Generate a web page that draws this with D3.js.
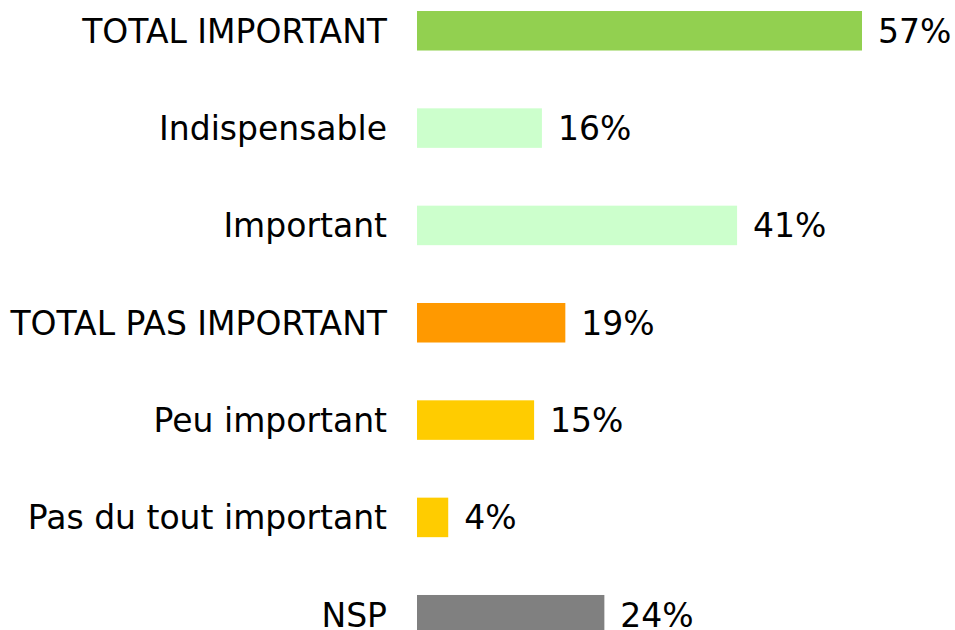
<!DOCTYPE html>
<html>
  <head>
    <script src="https://d3js.org/d3.v7.min.js"></script>
    <style>
      body { margin: 0; background: #fff; }
      text { font-family: "DejaVu Sans", Verdana, sans-serif; font-size: 33px; fill: #000; }
    </style>
  </head>
  <body>
    <div id="chart"></div>
    <script>
      // Data
      const categories = ["TOTAL IMPORTANT", "Indispensable", "Important", "TOTAL PAS IMPORTANT", "Peu important", "Pas du tout important", "NSP"];
      const values = [57, 16, 41, 19, 15, 4, 24];
      const colors = ["#92D050", "#CCFFCC", "#CCFFCC", "#FF9900", "#FFCC00", "#FFCC00", "#808080"];

      const width = 955, height = 630;

      const svg = d3.select("#chart")
        .append("svg")
        .attr("width", width)
        .attr("height", height);

      const xScale = d3.scaleLinear()
        .domain([0, 57])
        .range([417, 862]);

      const yScale = d3.scaleBand()
        .domain(categories)
        .range([11, 634.5])
        .paddingInner(0.594)
        .paddingOuter(0);

      const rows = categories.map((c, i) => ({ cat: c, value: values[i], color: colors[i] }));

      // Bars
      svg.selectAll("rect.bar")
        .data(rows)
        .enter()
        .append("rect")
        .attr("class", "bar")
        .attr("x", xScale(0))
        .attr("y", d => yScale(d.cat))
        .attr("width", d => xScale(d.value) - xScale(0))
        .attr("height", yScale.bandwidth())
        .attr("fill", d => d.color);

      // Category labels
      svg.selectAll("text.cat")
        .data(rows)
        .enter()
        .append("text")
        .attr("class", "cat")
        .attr("x", 387)
        .attr("y", d => yScale(d.cat) + yScale.bandwidth() / 2 + 12)
        .attr("text-anchor", "end")
        .text(d => d.cat);

      // Value labels
      svg.selectAll("text.val")
        .data(rows)
        .enter()
        .append("text")
        .attr("class", "val")
        .attr("x", d => xScale(d.value) + 16)
        .attr("y", d => yScale(d.cat) + yScale.bandwidth() / 2 + 12)
        .text(d => d.value + "%");
    </script>
  </body>
</html>
